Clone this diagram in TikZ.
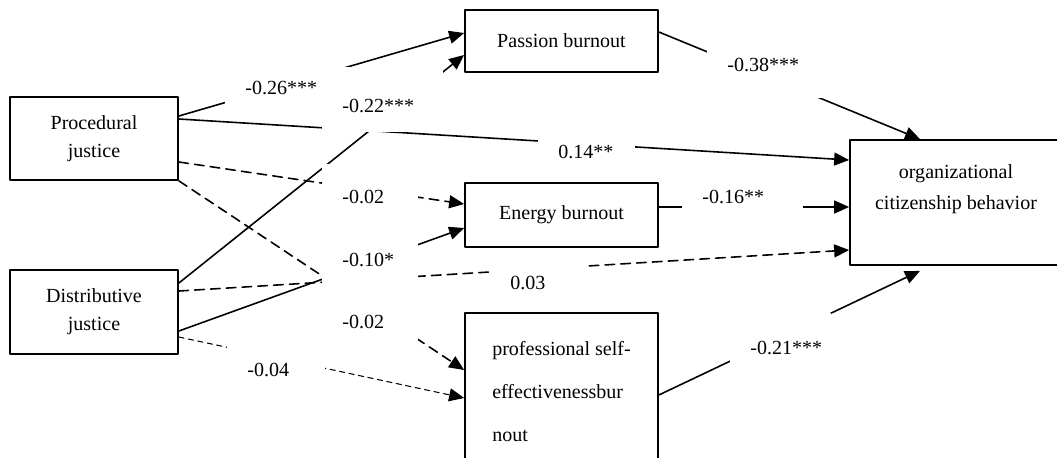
\documentclass[tikz,border=0pt]{standalone}
\usepackage{fontspec}
\setmainfont{Liberation Serif}
\usetikzlibrary{arrows.meta}

\tikzset{
    box/.style={draw, line width=1pt, fill=white, inner sep=0pt,
        align=center, font=\fontsize{11.4}{16}\selectfont},
    link/.style={line width=0.9pt, -{Triangle[length=3mm,width=2.6mm]}},
    nsig/.style={dash pattern=on 5.5pt off 3.5pt},
    nsthin/.style={line width=0.6pt, dash pattern=on 3pt off 2.5pt},
    lbl/.style={fill=white, inner sep=0pt, anchor=north west, align=left,
        font=\fontsize{11.4}{14}\selectfont,
        execute at begin node=\noindent\hspace*{4mm}}
}

\begin{document}
\begin{tikzpicture}[line cap=round,line join=round,
    x=0.02cm,y=-0.02cm]
\useasboundingbox (0,0) rectangle (1057,457);

% variables
\node[box, minimum width=3.36cm, minimum height=1.66cm] (proc) at (94,138.5) {Procedural\\justice};
\node[box, minimum width=3.36cm, minimum height=1.68cm] (dist) at (94,312) {Distributive\\justice};
\node[box, minimum width=3.86cm, minimum height=1.24cm] (passion) at (561.5,41) {Passion burnout};
\node[box, minimum width=3.86cm, minimum height=1.28cm] (energy) at (561.5,215) {Energy burnout};
\node[box, minimum width=3.86cm, minimum height=3.14cm, align=left,
    font=\fontsize{11.4}{24.5}\selectfont] (prof) at (561.5,391.5)
    {professional self-\\effectivenessbur\\nout};
\node[box, minimum width=4.24cm, minimum height=2.5cm,
    font=\fontsize{11.4}{17.6}\selectfont] (ocb) at (956,202.5)
    {organizational\\citizenship behavior\\\mbox{}};

% paths
\draw[link] ([yshift=0.45cm]proc.east) -- ([yshift=0.16cm]passion.west);
\draw[link] ([yshift=0.39cm]proc.east) -- ([yshift=0.85cm]ocb.west);
\draw[link,nsig] ([yshift=-0.47cm]proc.east) -- ([yshift=0.22cm]energy.west);
\draw[link,nsig] (proc.south east) -- ([yshift=0.43cm]prof.west);
\draw[link] ([yshift=0.58cm]dist.east) -- ([yshift=-0.28cm]passion.west);
\draw[link,nsig] ([yshift=0.42cm]dist.east) -- ([yshift=-0.95cm]ocb.west);
\draw[link] ([yshift=-0.38cm]dist.east) -- ([yshift=-0.26cm]energy.west);
\draw[link,nsthin] ([yshift=-0.5cm]dist.east) -- ([yshift=-0.13cm]prof.west);
\draw[link] ([yshift=0.18cm]passion.east) -- ([xshift=-0.72cm]ocb.north);
\draw[link] ([yshift=0.16cm]energy.east) -- ([yshift=-0.09cm]ocb.west);
\draw[link] ([yshift=-0.07cm]prof.east) -- ([xshift=-0.72cm,yshift=-0.1cm]ocb.south);

% coefficients
\node[lbl, text width=4.36cm, minimum height=0.82cm] (c26) at (225,67) {-0.26***};
\node[lbl, text width=2.36cm, minimum height=1.04cm] (c22) at (322,80) {-0.22***};
\node[lbl, text width=1.94cm, minimum height=0.68cm] (c14) at (538,135) {0.14**};
\node[lbl, text width=1.92cm, minimum height=1.32cm] (c02a) at (322,164) {-0.02};
\node[lbl, text width=1.92cm, minimum height=1.2cm] (c10) at (322,230) {-0.10*};
\node[lbl, text width=1.92cm, minimum height=1.28cm] (c02b) at (322,290) {-0.02};
\node[lbl, text width=1.96cm, minimum height=0.92cm] (c04) at (227,347) {-0.04};
\node[lbl, text width=1.94cm, minimum height=0.8cm] (c03) at (490,263) {0.03};
\node[lbl, text width=2.3cm, minimum height=1.32cm] (c38) at (707,32) {-0.38***};
\node[lbl, text width=2.42cm, minimum height=0.68cm] (c16) at (682,180) {-0.16**};
\node[lbl, text width=2.02cm, minimum height=1.4cm] (c21) at (730,313) {-0.21***};
\end{tikzpicture}
\end{document}
